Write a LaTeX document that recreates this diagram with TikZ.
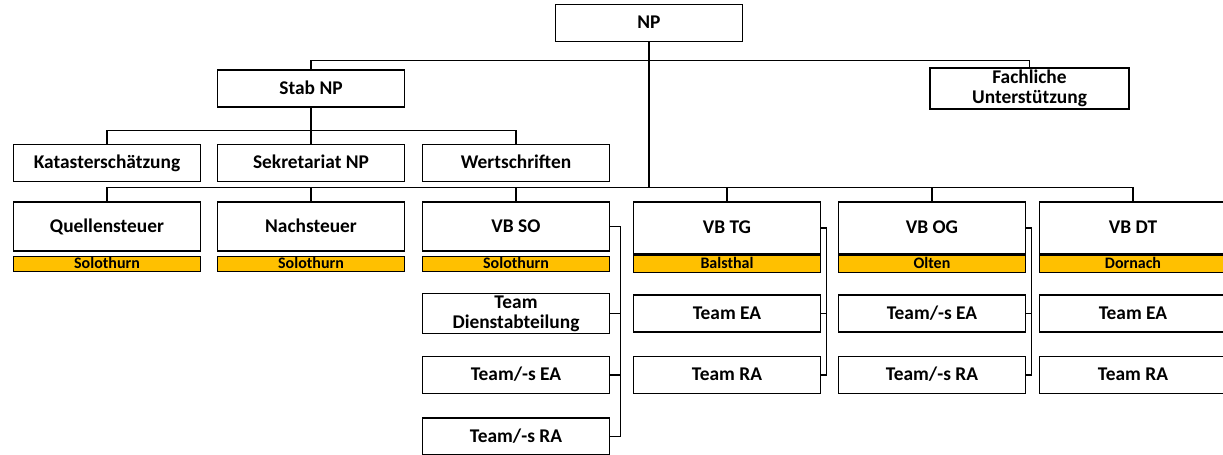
\documentclass[tikz,border=0pt]{standalone}
\usepackage{fontspec}
\setmainfont{Carlito}
\usepackage{tikz}
\usetikzlibrary{positioning}

\definecolor{orgbar}{HTML}{FFC000}

\begin{document}
\begin{tikzpicture}[x=0.5pt, y=-0.5pt,
  twoline/.style={draw, line width=0.8pt, minimum width=93.5pt, minimum height=18.5pt, inner sep=1pt, align=center, font=\fontsize{9.7}{10}\selectfont\bfseries},
  unit/.style={twoline, text height=7.4pt, text depth=1.8pt},
  vbunit/.style={unit, minimum height=24.5pt},
  place/.style={draw, line width=0.8pt, fill=orgbar, minimum width=93.5pt, minimum height=7.5pt, inner sep=0pt, text height=5.8pt, text depth=1.4pt, font=\fontsize{8}{8}\selectfont\bfseries},
  link/.style={line width=0.6pt}]
  \useasboundingbox (0,0) rectangle (1223,455);

  \node[unit] (np)   at (649,23)   {NP};
  \node[unit] (stab) at (311,88.5) {Stab NP};
  \node[twoline, minimum width=99.5pt] (fach) at (1029.5,88.5) {Fachliche\\Unterstützung};

  \node[unit] (kat)  at (107,163) {Katasterschätzung};
  \node[unit] (sek)  at (311,163) {Sekretariat NP};
  \node[unit] (wert) at (516,163) {Wertschriften};

  \node[vbunit] (quell) at (107,226.5) {Quellensteuer};
  \node[vbunit] (nach)  at (311,226.5) {Nachsteuer};
  \node[vbunit] (vbso)  at (516,226.5) {VB SO};
  \node[vbunit, minimum height=26pt] (vbtg) at (727,228)  {VB TG};
  \node[vbunit, minimum height=26pt] (vbog) at (932,228)  {VB OG};
  \node[vbunit, minimum height=26pt] (vbdt) at (1133,228) {VB DT};

  \node[place, below=2pt of quell] (quellort) {Solothurn};
  \node[place, below=2pt of nach]  (nachort)  {Solothurn};
  \node[place, below=2pt of vbso]  (vbsoort)  {Solothurn};
  \node[place, below=0pt of vbtg, minimum height=8.5pt] (vbtgort) {Balsthal};
  \node[place, below=0pt of vbog, minimum height=8.5pt] (vbogort) {Olten};
  \node[place, below=0pt of vbdt, minimum height=8.5pt] (vbdtort) {Dornach};

  \node[twoline] (so1) at (516,313.5) {Team\\Dienstabteilung};
  \node[unit] (so2) at (516,375)   {Team/-s EA};
  \node[unit] (so3) at (516,436.5) {Team/-s RA};
  \node[unit] (tg1) at (727,313.5) {Team EA};
  \node[unit] (tg2) at (727,375)   {Team RA};
  \node[unit] (og1) at (932,313.5) {Team/-s EA};
  \node[unit] (og2) at (932,375)   {Team/-s RA};
  \node[unit] (dt1) at (1133,313.5) {Team EA};
  \node[unit] (dt2) at (1133,375)   {Team RA};

  \coordinate (bus) at (649,188);

  % top levels
  \draw[link] (stab.north) -- ++(0,-9) -| (fach.north);
  \draw[link] (np.south) -- (bus);
  \draw[link] (stab.south) -- (sek.north);
  \draw[link] (kat.north) -- ++(0,-13) -| (wert.north);

  % regions
  \draw[link] (quell.north) -- ++(0,-14) -| (vbdt.north);
  \foreach \n in {nach,vbso,vbtg,vbog}
    \draw[link] (\n.north) -- ++(0,-14);

  % teams
  \draw[link] (vbso.east) -- ++(10,0) |- (so3.east);
  \draw[link] (so1.east) -- ++(10,0) (so2.east) -- ++(10,0);
  \draw[link] (vbtg.east) -- ++(5,0) |- (tg2.east);
  \draw[link] (tg1.east) -- ++(5,0);
  \draw[link] (vbog.east) -- ++(5,0) |- (og2.east);
  \draw[link] (og1.east) -- ++(5,0);
\end{tikzpicture}
\end{document}
